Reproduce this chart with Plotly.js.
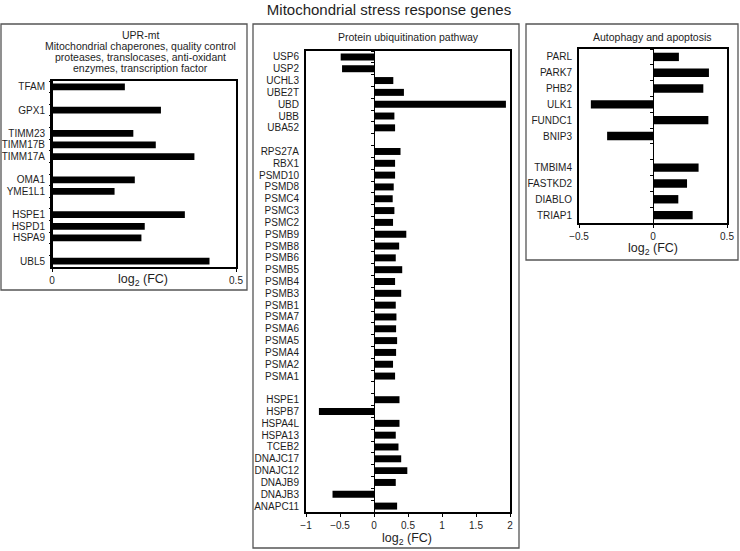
<!DOCTYPE html>
<html>
<head>
<meta charset="utf-8">
<script src="https://cdn.plot.ly/plotly-3.0.1.min.js"></script>
<style>html,body{margin:0;padding:0;background:#fff;}</style>
</head>
<body>
<div id="chart" style="width:740px;height:551px;"></div>
<script>
// blank names are spacer rows between gene groups
var uprGenes = ['TFAM',' ','GPX1','  ','TIMM23','TIMM17B','TIMM17A','   ','OMA1','YME1L1','    ','HSPE1','HSPD1','HSPA9','     ','UBL5'];
var uprFC    = [0.198,null,0.296,null,0.221,0.282,0.387,null,0.225,0.170,null,0.361,0.252,0.243,null,0.428];

var ubGenes = ['USP6','USP2','UCHL3','UBE2T','UBD','UBB','UBA52',' ',
  'RPS27A','RBX1','PSMD10','PSMD8','PSMC4','PSMC3','PSMC2','PSMB9','PSMB8','PSMB6','PSMB5','PSMB4',
  'PSMB3','PSMB1','PSMA7','PSMA6','PSMA5','PSMA4','PSMA2','PSMA1','  ',
  'HSPE1','HSPB7','HSPA4L','HSPA13','TCEB2','DNAJC17','DNAJC12','DNAJB9','DNAJB3','ANAPC11'];
var ubFC = [-0.49,-0.47,0.284,0.44,1.94,0.30,0.31,null,
  0.39,0.31,0.31,0.29,0.275,0.30,0.28,0.475,0.37,0.32,0.415,0.31,
  0.40,0.32,0.33,0.325,0.34,0.325,0.28,0.31,null,
  0.375,-0.81,0.375,0.32,0.36,0.40,0.49,0.32,-0.61,0.34];

var apoGenes = ['PARL','PARK7','PHB2','ULK1','FUNDC1','BNIP3',' ','TMBIM4','FASTKD2','DIABLO','TRIAP1'];
var apoFC    = [0.175,0.378,0.34,-0.42,0.374,-0.31,null,0.308,0.23,0.171,0.268];

var uprTitle = ['UPR-mt','Mitochondrial chaperones, quality control','proteases, translocases, anti-oxidant','enzymes, transcription factor'];

var ink = '#1e1e1e';
var W = 740, H = 551;
function px(x){ return x / W; }
function py(y){ return 1 - y / H; }

var data = [];
var layout = {
  width: W, height: H,
  margin: {l:0, r:0, t:0, b:0},
  paper_bgcolor: '#fff', plot_bgcolor: '#fff',
  showlegend: false,
  font: {family: 'Liberation Sans, Arial, sans-serif', color: ink, size: 10},
  title: {text: 'Mitochondrial stress response genes', x: px(389), xanchor: 'center',
          y: py(10), yref: 'container', yanchor: 'middle', font: {size: 15, color: ink}},
  shapes: [], annotations: []
};

function addPanel(n, genes, fc, xr, xd, yd, bw) {
  var xa = 'x' + n, ya = 'y' + n, yz = 'y' + (n + 3);
  data.push({type:'bar', orientation:'h', y: genes, x: fc, xaxis: xa, yaxis: ya,
             width: bw, marker: {color: '#000'}, hoverinfo: 'x+y'});
  // empty trace that carries the zero-line axis with its category ticks
  data.push({type:'bar', orientation:'h', y: genes, x: genes.map(function(){ return null; }),
             xaxis: xa, yaxis: yz, hoverinfo: 'skip'});
  var zeroPos = xd[0] + (0 - xr[0]) / (xr[1] - xr[0]) * (xd[1] - xd[0]);
  layout['xaxis' + n] = {domain: xd, range: xr, anchor: ya, dtick: 0.5, tick0: 0,
    ticks: 'outside', ticklen: 3, tickcolor: '#000', showline: true, mirror: true,
    linewidth: 2, linecolor: '#000', showgrid: false, zeroline: false,
    tickfont: {size: 10, color: ink}, fixedrange: true};
  layout['yaxis' + n] = {domain: yd, type: 'category', autorange: 'reversed', anchor: xa,
    tickmode: 'linear', tick0: 0, dtick: 1,
    showline: true, mirror: true, linewidth: 2, linecolor: '#000', ticks: '',
    showgrid: false, zeroline: false, tickfont: {size: 10, color: ink},
    ticklabelstandoff: 3, fixedrange: true};
  layout['yaxis' + (n + 3)] = {type: 'category', overlaying: ya, anchor: 'free', position: zeroPos,
    tickmode: 'linear', tick0: 0, dtick: 1,
    autorange: 'reversed', showline: true, linewidth: 1, linecolor: '#000',
    ticks: 'outside', ticklen: 3, tickcolor: '#000', tickson: 'boundaries',
    showticklabels: false, showgrid: false, zeroline: false, fixedrange: true};
}

addPanel(1, uprGenes, uprFC, [0, 0.5], [px(52), px(236)], [py(267), py(81)], 0.58);
addPanel(2, ubGenes, ubFC, [-1, 2], [px(306), px(510)], [py(512), py(51)], 0.59);
addPanel(3, apoGenes, apoFC, [-0.5, 0.5], [px(579), px(727)], [py(223), py(49)], 0.53);

// panel boxes
[[1, 24, 247, 290], [253, 24, 519, 548], [526, 24, 738, 260]].forEach(function(b){
  layout.shapes.push({type: 'rect', xref: 'paper', yref: 'paper',
    x0: px(b[0]), x1: px(b[2]), y0: py(b[3]), y1: py(b[1]),
    line: {color: '#555', width: 1.3}});
});

function note(text, x, y, size) {
  layout.annotations.push({text: text, xref: 'paper', yref: 'paper', x: px(x), y: py(y),
    xanchor: 'center', yanchor: 'middle', showarrow: false, font: {size: size, color: ink}});
}
uprTitle.forEach(function(t, i){ note(t, 140, 35 + i * 11, 10.5); });
note('Protein ubiquitination pathway', 408, 37, 10.5);
note('Autophagy and apoptosis', 652, 37, 10.5);
note('log<sub>2</sub> (FC)', 143, 280, 12.5);
note('log<sub>2</sub> (FC)', 407, 539, 12.5);
note('log<sub>2</sub> (FC)', 653, 249, 12.5);

Plotly.newPlot('chart', data, layout, {displayModeBar: false, staticPlot: true});
</script>
</body>
</html>
